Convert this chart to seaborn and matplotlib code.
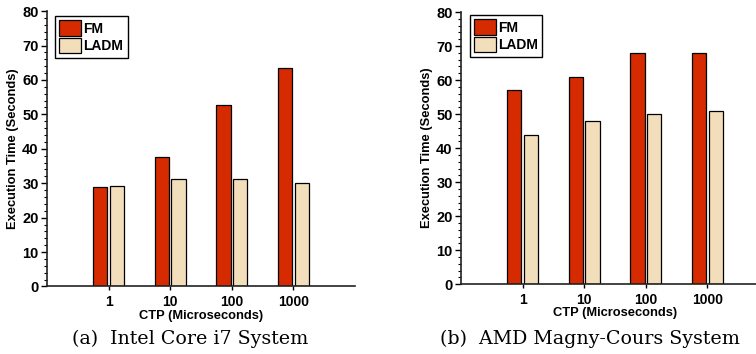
import matplotlib
matplotlib.use("Agg")
import matplotlib.pyplot as plt
from matplotlib.ticker import MultipleLocator
import pandas as pd
import seaborn as sns

# CTP values (microseconds) and execution times (seconds)
ctp_labels = ["1", "10", "100", "1000"]
schemes = ["FM", "LADM"]

intel_fm = [28.8, 37.5, 52.6, 63.5]
intel_ladm = [29.1, 31.1, 31.1, 30.2]

amd_fm = [57.0, 61.0, 68.0, 68.0]
amd_ladm = [44.0, 48.0, 50.0, 51.0]

captions = ["(a)  Intel Core i7 System", "(b)  AMD Magny-Cours System"]

colors = {"FM": "#D62A00", "LADM": "#F3DEBB"}


def long_frame(fm, ladm):
    return pd.DataFrame({
        "CTP": ctp_labels * 2,
        "Scheme": ["FM"] * len(fm) + ["LADM"] * len(ladm),
        "Time": list(fm) + list(ladm),
    })


sns.set_style("ticks")
plt.rcParams["font.family"] = ["Liberation Sans", "DejaVu Sans"]
plt.rcParams.update({
    "text.color": "black",
    "axes.labelcolor": "black",
    "xtick.color": "black",
    "ytick.color": "black",
})

fig = plt.figure(figsize=(7.56, 3.54), dpi=100)

panels = [
    (long_frame(intel_fm, intel_ladm), [0.0622, 0.1907, 0.4074, 0.778], (0.026, 0.982), 0.2513),
    (long_frame(amd_fm, amd_ladm), [0.6098, 0.197, 0.4074, 0.769], (0.029, 0.989), 0.7804),
]

for (df, rect, legpos, capx), cap in zip(panels, captions):
    ax = fig.add_axes(rect)
    sns.barplot(data=df, x="CTP", y="Time", hue="Scheme", order=ctp_labels,
                hue_order=schemes, palette=colors, width=0.55, gap=0.15,
                edgecolor="black", linewidth=0.9, saturation=1, ax=ax)
    ax.set_xlim(-1, 4)
    ax.set_ylim(0, 80)
    ax.yaxis.set_major_locator(MultipleLocator(10))
    ax.yaxis.set_minor_locator(MultipleLocator(2))
    for s in ["top", "right"]:
        ax.spines[s].set_visible(False)
    for s in ["left", "bottom"]:
        ax.spines[s].set_linewidth(1.2)
        ax.spines[s].set_color("#222222")
    ax.tick_params(axis="y", which="major", length=4, width=1, pad=2,
                   labelsize=10.5)
    ax.tick_params(axis="y", which="minor", length=2, width=0.8)
    ax.tick_params(axis="x", which="major", length=3, width=1, pad=3,
                   labelsize=10)
    for lab in ax.get_xticklabels() + ax.get_yticklabels():
        lab.set_fontweight("bold")
    ax.set_xlabel("CTP (Microseconds)", fontsize=9.3, fontweight="bold",
                  labelpad=0.5)
    ax.set_ylabel("Execution Time (Seconds)", fontsize=9.3, fontweight="bold",
                  labelpad=2)

    handles, labels = ax.get_legend_handles_labels()
    ax.legend(handles, labels, loc="upper left", bbox_to_anchor=legpos,
              borderaxespad=0, frameon=True, fancybox=False,
              edgecolor="black", framealpha=1, handlelength=1.6,
              handleheight=1.35, handletextpad=0.15, borderpad=0.3,
              labelspacing=0.15, prop={"weight": "bold", "size": 10})
    ax.get_legend().get_frame().set_linewidth(1.0)

    fig.text(capx, 0.018, cap, ha="center", va="bottom", fontsize=13.7,
             family="DejaVu Serif")

fig.savefig("out.png", dpi=100)
